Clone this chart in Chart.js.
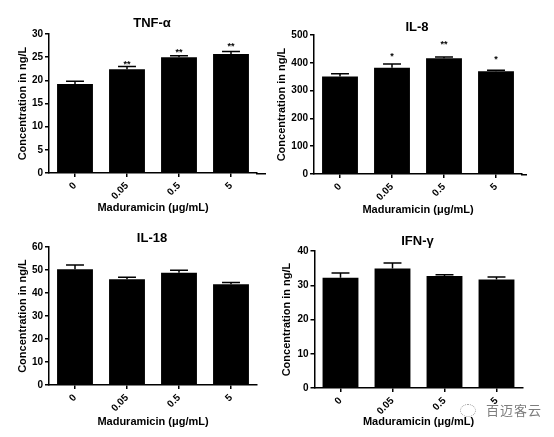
<!DOCTYPE html>
<html>
<head>
<meta charset="utf-8">
<script src="https://cdn.jsdelivr.net/npm/chart.js@4"></script>
<style>
    body { margin: 0; background: #fff; width: 554px; height: 437px; overflow: hidden; position: relative; }
    .painel { position: absolute; }
    .marca { position: absolute; left: 486px; top: 400px; color: #7d7d7d; font: 13px "Noto Sans CJK SC", sans-serif; letter-spacing: 1px; }
    .icone { position: absolute; left: 460px; top: 404px; width: 14px; height: 11px; border: 1.5px dotted #9a9a9a; border-radius: 50%; }
</style>
</head>
<body>

<div class="painel" style="left:0px; top:0px; width:277px; height:219px;"><canvas id="graficoTnf"></canvas></div>
<div class="painel" style="left:274px; top:0px; width:280px; height:221px;"><canvas id="graficoIl8"></canvas></div>
<div class="painel" style="left:0px; top:220px; width:277px; height:213px;"><canvas id="graficoIl18"></canvas></div>
<div class="painel" style="left:274px; top:220px; width:280px; height:213px;"><canvas id="graficoIfn"></canvas></div>

<div class="icone"></div>
<div class="marca">百迈客云</div>

<script>
const doses = ["0", "0.05", "0.5", "5"];

const tnfMedia = [19.2, 22.4, 25.0, 25.7];
const tnfErro = [0.6, 0.6, 0.3, 0.5];
const tnfSig = ["", "**", "**", "**"];
const tnfSigY = [0, 24.1, 26.6, 27.9];
const tnfTicks = [0, 5, 10, 15, 20, 25, 30];

const il8Media = [351, 382, 416, 370];
const il8Erro = [10, 14, 5, 3];
const il8Sig = ["", "*", "**", "*"];
const il8SigY = [0, 432, 474, 420];
const il8Ticks = [0, 100, 200, 300, 400, 500];

const il18Media = [50.3, 46.0, 48.8, 43.8];
const il18Erro = [1.9, 0.8, 1.1, 0.8];
const il18Sig = ["", "", "", ""];
const il18SigY = [0, 0, 0, 0];
const il18Ticks = [0, 10, 20, 30, 40, 50, 60];

const ifnMedia = [32.2, 34.9, 32.7, 31.7];
const ifnErro = [1.4, 1.6, 0.4, 0.7];
const ifnSig = ["", "", "", ""];
const ifnSigY = [0, 0, 0, 0];
const ifnTicks = [0, 10, 20, 30, 40];

const fonte = "'Liberation Sans', Arial, sans-serif";
Chart.defaults.color = "#000";
Chart.defaults.font.family = fonte;

// titulo, barras de erro, asteriscos e prolongamento do eixo x
const pluginErros = {
    id: "barrasErro",
    afterDatasetsDraw(chart) {
        const ctx = chart.ctx;
        const ds = chart.data.datasets[0];
        const meta = chart.getDatasetMeta(0);
        const y = chart.scales.y;
        const area = chart.chartArea;
        const extra = chart.config.options.extra;
        ctx.save();
        ctx.strokeStyle = "#000";
        ctx.fillStyle = "#000";
        ctx.lineWidth = 1.5;

        if (extra.eixo > 0) {
            ctx.beginPath();
            ctx.moveTo(area.right - 1, area.bottom + 0.75);
            ctx.lineTo(area.right + extra.eixo, area.bottom + 0.75);
            ctx.stroke();
        }

        ctx.textAlign = "center";
        ctx.textBaseline = "middle";
        ctx.font = "bold 13px " + fonte;
        ctx.fillText(extra.titulo, (area.left + area.right) / 2 - 1, extra.tituloY);

        ctx.font = "bold 9px " + fonte;
        ctx.textBaseline = "alphabetic";
        meta.data.forEach((barra, i) => {
            const topo = y.getPixelForValue(ds.data[i] + ds.erros[i]);
            const meio = barra.width * 0.25;
            ctx.beginPath();
            ctx.moveTo(barra.x, barra.y);
            ctx.lineTo(barra.x, topo);
            ctx.moveTo(barra.x - meio, topo);
            ctx.lineTo(barra.x + meio, topo);
            ctx.stroke();
            if (ds.sig[i]) {
                ctx.fillText(ds.sig[i], barra.x, y.getPixelForValue(ds.sigY[i]) + 5.2);
            }
        });
        ctx.restore();
    }
};

function graficoPainel(id, titulo, medias, erros, sig, sigY, ticks, caixa) {
    new Chart(document.getElementById(id), {
        type: "bar",
        data: {
            labels: doses,
            datasets: [{
                data: medias,
                erros: erros,
                sig: sig,
                sigY: sigY,
                backgroundColor: "#000",
                borderWidth: 0,
                barPercentage: 0.69,
                categoryPercentage: 1
            }]
        },
        options: {
            responsive: true,
            maintainAspectRatio: false,
            animation: false,
            extra: { titulo: titulo, tituloY: caixa.ty, eixo: caixa.ext },
            layout: { padding: { top: caixa.pt, left: caixa.pl, right: caixa.pr, bottom: 0 } },
            plugins: {
                legend: { display: false },
                tooltip: { enabled: false },
                title: { display: false }
            },
            scales: {
                x: {
                    afterFit: s => { s.height = caixa.xh; },
                    border: { display: true, color: "#000", width: 1.5 },
                    grid: { display: true, drawOnChartArea: false, drawTicks: true, tickLength: 4, color: "#000", lineWidth: 1.5, offset: false },
                    ticks: { minRotation: 45, maxRotation: 45, padding: 3, font: { size: 10, weight: "bold" } },
                    title: { display: true, text: "Maduramicin (μg/mL)", font: { size: 11, weight: "bold" }, padding: { top: 4, bottom: 4 } }
                },
                y: {
                    min: ticks[0],
                    max: ticks[ticks.length - 1],
                    afterFit: s => { s.width = caixa.yw; },
                    afterBuildTicks: s => { s.ticks = ticks.map(v => ({ value: v })); },
                    border: { display: true, color: "#000", width: 1.5 },
                    grid: { display: true, drawOnChartArea: false, drawTicks: true, tickLength: 4, color: "#000", lineWidth: 1.5 },
                    ticks: { padding: 2, font: { size: 10, weight: "bold" } },
                    title: { display: true, text: "Concentration in ng/L", font: { size: 11, weight: "bold" }, padding: { top: 0, bottom: 0 } }
                }
            }
        },
        plugins: [pluginErros]
    });
}

graficoPainel("graficoTnf", "TNF-α", tnfMedia, tnfErro, tnfSig, tnfSigY, tnfTicks,
    { pt: 34, ty: 23, pl: 16.4, yw: 32.6, pr: 20, xh: 46, ext: 9 });
graficoPainel("graficoIl8", "IL-8", il8Media, il8Erro, il8Sig, il8SigY, il8Ticks,
    { pt: 35, ty: 27, pl: 1.4, yw: 38.6, pr: 32, xh: 47, ext: 5 });
graficoPainel("graficoIl18", "IL-18", il18Media, il18Erro, il18Sig, il18SigY, il18Ticks,
    { pt: 27, ty: 18, pl: 16.4, yw: 32.6, pr: 20, xh: 48, ext: 0 });
graficoPainel("graficoIfn", "IFN-γ", ifnMedia, ifnErro, ifnSig, ifnSigY, ifnTicks,
    { pt: 31, ty: 21, pl: 6.4, yw: 34.1, pr: 31.5, xh: 45, ext: 0 });
</script>
</body>
</html>
